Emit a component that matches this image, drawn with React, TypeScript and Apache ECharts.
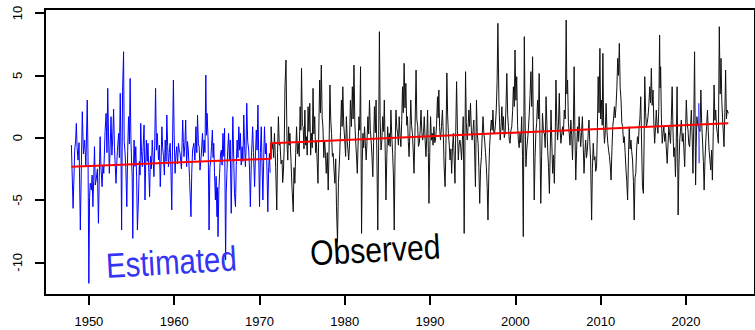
import { useEffect, useRef } from "react";
import * as echarts from "echarts";

// Axis tick positions
const xTickYears = [1950, 1960, 1970, 1980, 1990, 2000, 2010, 2020];
const yTickValues = [-10, -5, 0, 5, 10];

// Estimated monthly anomalies, [year, value]
const estimated1948to1958: [number, number][] = [
  [1947.95, -0.59], [1948.15, -5.67], [1948.34, -1.0], [1948.45, -0.2], [1948.53, 1.15], [1948.62, -0.8],
  [1948.73, -1.8], [1948.85, -0.4], [1949.0, -7.41], [1949.12, -2.2], [1949.23, 2.09], [1949.36, -1.3],
  [1949.5, -0.19], [1949.65, -2.3], [1949.81, 3.02], [1949.9, -1.5], [1950.0, -11.69], [1950.08, -4.8],
  [1950.16, -3.66], [1950.3, -4.2], [1950.38, -3.0], [1950.47, -5.54], [1950.56, -3.5], [1950.66, -0.72],
  [1950.75, -3.8], [1950.85, -3.4], [1951.0, -2.5], [1951.12, -6.87], [1951.22, -3.2], [1951.32, 0.08],
  [1951.42, -2.4], [1951.55, -3.93], [1951.65, -2.2], [1951.75, -2.86], [1951.9, 0.5], [1952.02, 1.95],
  [1952.12, -1.2], [1952.21, 3.96], [1952.3, 0.4], [1952.4, -2.86], [1952.5, -0.6], [1952.6, 1.69],
  [1952.7, -1.4], [1952.79, -0.19], [1952.9, 2.3], [1953.0, -0.8], [1953.08, -2.1], [1953.18, -3.66],
  [1953.28, -1.9], [1953.35, -1.0], [1953.49, 0.35], [1953.58, -1.6], [1953.68, 3.56], [1953.76, -0.9],
  [1953.84, -7.41], [1953.95, 3.69], [1954.07, 6.9], [1954.14, -0.3], [1954.22, -0.99], [1954.33, -2.4],
  [1954.45, -5.54], [1954.55, -1.1], [1954.65, 1.69], [1954.75, -0.5], [1954.84, 4.76], [1954.92, 0.2],
  [1955.0, -1.79], [1955.08, -3.1], [1955.15, -8.08], [1955.22, -2.8], [1955.3, -0.19], [1955.4, -2.3],
  [1955.5, -0.72], [1955.6, -3.2], [1955.69, -7.41], [1955.81, -5.0], [1955.92, -1.9], [1956.0, -3.0],
  [1956.08, 1.15], [1956.17, -1.1], [1956.27, -2.33], [1956.36, -0.8], [1956.47, 1.02], [1956.58, -5.0],
  [1956.66, -2.2], [1956.74, -0.19], [1956.84, -1.9], [1956.93, -0.45], [1957.03, -2.8], [1957.12, -4.73],
  [1957.22, -1.5], [1957.33, -2.5], [1957.43, -0.19], [1957.53, -1.6], [1957.63, -3.13], [1957.72, -0.6],
  [1957.82, 3.96], [1957.92, -1.0],
];

const estimated1958to1971: [number, number][] = [
  [1958.01, 0.35], [1958.17, -1.79], [1958.27, -0.6], [1958.37, -3.93], [1958.46, -2.0], [1958.56, 0.88],
  [1958.65, -0.8], [1958.75, -1.52], [1958.85, -3.0], [1958.95, -0.19], [1959.05, -1.9], [1959.14, 1.82],
  [1959.24, -0.7], [1959.33, -2.33], [1959.43, -1.2], [1959.53, -0.45], [1959.62, -2.6], [1959.72, -5.8],
  [1959.8, -1.0], [1959.91, 4.63], [1960.0, 0.2], [1960.11, -2.86], [1960.2, -1.4], [1960.3, -0.72],
  [1960.4, -2.1], [1960.5, -0.45], [1960.6, -1.0], [1960.69, -1.26], [1960.85, -2.5], [1961.0, 1.42],
  [1961.08, -0.4], [1961.15, -1.52], [1961.25, -0.6], [1961.35, 1.42], [1961.46, -2.33], [1961.56, -0.3],
  [1961.66, -0.99], [1961.8, -3.2], [1961.97, -6.34], [1962.06, -2.8], [1962.16, -0.99], [1962.31, -0.45],
  [1962.43, -1.8], [1962.55, 0.88], [1962.65, -1.2], [1962.74, 1.82], [1962.84, -0.5], [1962.93, -0.72],
  [1963.03, -2.6], [1963.13, -1.79], [1963.22, -0.9], [1963.32, 0.35], [1963.42, -1.5], [1963.51, -0.19],
  [1963.61, -1.2], [1963.71, 5.03], [1963.79, 0.2], [1963.86, 1.95], [1963.98, -0.19], [1964.09, -7.41],
  [1964.19, -2.4], [1964.29, -1.79], [1964.38, -0.7], [1964.48, 0.62], [1964.56, -1.6], [1964.64, -0.45],
  [1964.73, -2.8], [1964.83, -5.0], [1964.92, -3.1], [1965.02, -6.34], [1965.08, -4.0], [1965.14, -7.94],
  [1965.24, -4.2], [1965.33, -2.86], [1965.43, -1.3], [1965.53, -0.99], [1965.62, -2.2], [1965.72, 0.35],
  [1965.82, -1.5], [1965.91, 0.75], [1966.03, -9.82], [1966.1, -4.5], [1966.18, -2.86], [1966.28, -1.0],
  [1966.38, 0.35], [1966.48, -1.8], [1966.57, -0.19], [1966.69, -6.07], [1966.78, -2.0], [1966.88, 1.69],
  [1966.98, -1.6], [1967.07, -4.47], [1967.19, -5.54], [1967.28, -2.2], [1967.38, -0.19], [1967.48, -1.6],
  [1967.58, 0.88], [1967.68, -1.0], [1967.77, 0.35], [1967.86, -2.2], [1967.96, -0.72], [1968.06, -1.9],
  [1968.16, 1.82], [1968.26, -0.6], [1968.35, -2.33], [1968.43, -0.9], [1968.51, 2.76], [1968.62, -0.3],
  [1968.74, -0.99], [1968.84, -2.6], [1968.93, -5.54], [1969.06, -1.5], [1969.2, 0.88], [1969.3, -1.2],
  [1969.43, -3.93], [1969.53, -1.4], [1969.63, 0.62], [1969.72, -1.0], [1969.82, 2.62], [1969.92, -1.8],
  [1970.01, -5.54], [1970.11, -1.2], [1970.21, 0.88], [1970.3, -2.0], [1970.4, -5.0], [1970.5, -1.6],
  [1970.59, 0.88], [1970.69, -1.3], [1970.79, -0.45], [1970.88, -2.6], [1970.98, -5.94], [1971.08, -2.4],
  [1971.17, -1.26], [1971.25, -2.8],
];

// Short estimated stretch inside the observed record
const estimated2021: [number, number][] = [[2021.5, 2.76], [2021.55, -2.06]];

// Observed monthly anomalies, [year, value]
const observed1971to1980: [number, number][] = [
  [1971.33, -1.5], [1971.37, 0.88], [1971.47, -0.9], [1971.56, -0.45], [1971.66, -1.6], [1971.76, 0.35],
  [1971.9, -2.4], [1972.03, -5.8], [1972.12, -1.2], [1972.22, 1.69], [1972.32, -0.6], [1972.41, -0.45],
  [1972.53, -2.1], [1972.65, -1.79], [1972.72, -3.6], [1972.8, -2.86], [1972.9, -0.8], [1972.99, 4.09],
  [1973.11, 6.23], [1973.23, -0.45], [1973.32, -1.8], [1973.42, 0.88], [1973.5, -0.6], [1973.57, 0.35],
  [1973.7, -1.9], [1973.81, -3.93], [1973.96, -5.94], [1974.05, -2.4], [1974.15, -3.66], [1974.25, -1.2],
  [1974.35, 0.88], [1974.45, -1.3], [1974.54, -0.45], [1974.66, -1.5], [1974.77, 2.49], [1974.85, 0.6],
  [1974.93, 5.57], [1975.03, 1.0], [1975.12, 0.88], [1975.22, -0.9], [1975.32, 2.22], [1975.42, -0.6],
  [1975.51, 0.08], [1975.6, -1.4], [1975.7, 2.49], [1975.8, 0.5], [1975.9, 2.76], [1976.0, -1.4],
  [1976.09, 0.35], [1976.19, -0.8], [1976.28, 3.96], [1976.38, 0.3], [1976.48, 1.69], [1976.58, -1.2],
  [1976.67, -0.19], [1976.77, -2.0], [1976.86, -3.66], [1976.96, 0.8], [1977.06, 4.63], [1977.15, 2.0],
  [1977.25, 5.83], [1977.35, 1.6], [1977.44, 0.88], [1977.54, -1.6], [1977.64, -0.19], [1977.74, -1.4],
  [1977.83, -2.86], [1977.95, -1.2], [1978.06, -4.2], [1978.16, -0.9], [1978.26, 4.23], [1978.36, 1.4],
  [1978.45, 0.35], [1978.55, -1.5], [1978.64, -1.26], [1978.74, -2.6], [1978.84, -3.66], [1978.94, -1.7],
  [1979.03, -5.54], [1979.15, -8.4], [1979.26, -3.6], [1979.38, -1.79], [1979.5, 0.5], [1979.61, 3.02],
  [1979.69, 0.9], [1979.77, 4.09], [1979.88, 1.0], [1980.0, -0.19], [1980.1, -1.5], [1980.19, 1.69],
  [1980.3, -0.3], [1980.46, -1.79],
];

const observed1980to1992: [number, number][] = [
  [1980.56, -0.5], [1980.66, 3.0], [1980.78, 0.9], [1980.89, 4.09], [1980.98, 1.5], [1981.08, 5.83],
  [1981.18, 1.2], [1981.27, -0.19], [1981.37, -1.4], [1981.47, -2.86], [1981.56, -0.6], [1981.66, 1.69],
  [1981.76, 0.6], [1981.85, 5.7], [1981.97, -7.68], [1982.05, -2.0], [1982.13, 0.35], [1982.22, -0.8],
  [1982.32, 0.88], [1982.42, -0.6], [1982.51, -1.79], [1982.61, -0.3], [1982.71, 1.69], [1982.8, 0.3],
  [1982.9, 3.02], [1983.0, 0.6], [1983.09, -0.19], [1983.19, -1.5], [1983.29, -3.13], [1983.38, -0.4],
  [1983.48, 2.49], [1983.58, 0.4], [1983.67, 3.02], [1983.77, -1.8], [1983.87, -7.41], [1983.97, -0.5],
  [1984.06, 8.51], [1984.15, 1.5], [1984.25, -0.99], [1984.35, -0.2], [1984.45, 1.69], [1984.55, 0.5],
  [1984.64, 3.02], [1984.74, -1.0], [1984.83, -5.0], [1984.93, -1.5], [1985.03, 0.88], [1985.12, -0.6],
  [1985.22, 0.35], [1985.32, -0.7], [1985.41, 2.22], [1985.51, 0.2], [1985.61, -1.26], [1985.7, -2.9],
  [1985.8, -7.41], [1985.9, -1.0], [1986.0, 2.22], [1986.1, 0.8], [1986.19, 0.35], [1986.29, -0.6],
  [1986.38, 1.69], [1986.48, 0.2], [1986.58, -0.72], [1986.68, 1.4], [1986.77, 4.09], [1986.86, 2.0],
  [1986.96, 5.97], [1987.06, 2.4], [1987.16, 4.36], [1987.26, 1.0], [1987.35, 1.69], [1987.45, -0.3],
  [1987.54, -1.52], [1987.64, 0.5], [1987.74, 3.02], [1987.83, 1.0], [1987.93, 0.35], [1988.02, -1.0],
  [1988.12, -2.86], [1988.24, 0.8], [1988.36, 5.43], [1988.45, 1.5], [1988.55, 0.88], [1988.64, -0.7],
  [1988.74, -0.45], [1988.84, 0.6], [1988.94, 2.22], [1989.03, 0.5], [1989.13, -0.19], [1989.23, 0.4],
  [1989.32, 1.69], [1989.42, -0.2], [1989.52, -1.52], [1989.62, 0.2], [1989.71, 2.22], [1989.8, -1.2],
  [1989.87, -5.27], [1989.97, -1.0], [1990.06, 1.69], [1990.16, -0.2], [1990.25, 0.35], [1990.35, -0.6],
  [1990.45, 0.88], [1990.55, -0.4], [1990.64, -0.19], [1990.76, 1.0], [1990.87, 3.29], [1990.95, 1.6],
  [1991.03, 3.83], [1991.12, 0.8], [1991.22, -0.19], [1991.34, 0.9], [1991.45, 2.22], [1991.55, 0.3],
  [1991.65, -2.33], [1991.76, -3.93], [1991.84, -1.5], [1991.97, 5.2],
];

const observed1992to2003: [number, number][] = [
  [1992.06, 1.8], [1992.15, 0.35], [1992.25, -0.6], [1992.34, -1.79], [1992.44, -0.9], [1992.53, -2.86],
  [1992.63, -0.8], [1992.73, 0.35], [1992.82, -1.5], [1992.92, -3.66], [1993.01, 0.5], [1993.11, 4.5],
  [1993.21, 0.6], [1993.31, -1.79], [1993.4, -0.6], [1993.5, -0.19], [1993.6, -0.8], [1993.69, -1.79],
  [1993.79, -0.2], [1993.89, 1.69], [1994.0, -7.68], [1994.16, 5.3], [1994.25, 1.2], [1994.35, -0.19],
  [1994.45, 0.8], [1994.55, 2.22], [1994.64, 0.9], [1994.74, 2.76], [1994.84, 0.6], [1994.93, -0.19],
  [1995.03, 0.5], [1995.13, 1.42], [1995.22, -1.0], [1995.32, -3.93], [1995.44, 3.02], [1995.53, 0.4],
  [1995.63, -0.45], [1995.72, -2.4], [1995.82, -5.27], [1995.92, -2.5], [1996.02, -1.52], [1996.11, 0.2],
  [1996.21, 1.69], [1996.31, 0.3], [1996.4, -0.19], [1996.5, -1.2], [1996.6, -2.33], [1996.7, -4.0],
  [1996.79, -6.61], [1996.89, -2.8], [1996.98, -0.72], [1997.08, 0.5], [1997.18, 1.42], [1997.28, 0.6],
  [1997.37, 2.22], [1997.47, 0.4], [1997.56, 0.35], [1997.66, 1.0], [1997.76, 2.22], [1997.86, 4.5],
  [1997.95, 9.18], [1998.07, 3.02], [1998.15, 1.2], [1998.22, -0.19], [1998.32, 0.9], [1998.42, 2.49],
  [1998.52, 0.6], [1998.61, 1.69], [1998.7, 0.0], [1998.8, 0.35], [1998.9, 2.5], [1999.0, 5.16],
  [1999.1, 1.8], [1999.19, 0.88], [1999.29, -0.2], [1999.38, -0.45], [1999.48, 0.6], [1999.58, 0.88],
  [1999.68, 2.2], [1999.77, 4.09], [1999.87, 2.5], [1999.96, 7.04], [2000.06, 3.0], [2000.16, 4.9],
  [2000.26, 1.0], [2000.35, -0.19], [2000.45, -0.8], [2000.54, 0.35], [2000.64, -0.4], [2000.74, 1.69],
  [2000.84, -1.5], [2000.93, -7.94], [2001.05, 8.11], [2001.14, 1.5], [2001.24, -2.33], [2001.34, -0.9],
  [2001.43, -0.19], [2001.53, 0.7], [2001.63, 1.95], [2001.72, 3.4], [2001.82, 5.3], [2001.92, 2.5],
  [2002.02, 6.5], [2002.11, 0.5], [2002.21, -5.0], [2002.31, -1.6], [2002.4, 0.35], [2002.5, 1.2],
  [2002.6, 3.02], [2002.7, 1.5], [2002.79, 5.16], [2002.89, -0.5], [2002.98, -5.27], [2003.08, -1.5],
];

const observed2003to2014: [number, number][] = [
  [2003.18, 1.95], [2003.3, 0.4], [2003.41, 0.35], [2003.5, -0.8], [2003.6, 3.29], [2003.7, 1.0],
  [2003.79, -0.99], [2003.89, -2.4], [2003.99, -4.47], [2004.09, -1.0], [2004.18, 2.22], [2004.28, -0.5],
  [2004.37, -2.86], [2004.47, -1.4], [2004.57, -3.66], [2004.66, -0.5], [2004.76, 4.63], [2004.86, 1.2],
  [2004.95, -0.19], [2005.05, 1.0], [2005.15, 3.56], [2005.25, 0.6], [2005.34, -0.45], [2005.44, 0.3],
  [2005.54, 0.88], [2005.63, 0.2], [2005.73, 2.22], [2005.85, 1.5], [2005.96, 9.44], [2006.04, 3.5],
  [2006.12, 4.63], [2006.22, 1.2], [2006.31, 0.35], [2006.41, -0.6], [2006.5, 1.42], [2006.6, 0.2],
  [2006.7, -1.79], [2006.8, 1.0], [2006.89, 5.7], [2006.98, 0.5], [2007.08, -3.4], [2007.18, -1.0],
  [2007.28, 0.88], [2007.37, -0.3], [2007.47, 1.69], [2007.57, 0.3], [2007.66, -0.72], [2007.76, 0.4],
  [2007.86, 1.69], [2007.95, -0.5], [2008.05, -2.86], [2008.15, -1.2], [2008.24, -0.19], [2008.34, -1.6],
  [2008.44, -0.99], [2008.53, 0.2], [2008.63, 1.42], [2008.72, -0.3], [2008.82, -1.79], [2008.94, -6.61],
  [2009.03, -2.5], [2009.13, -0.45], [2009.23, -1.8], [2009.33, -1.52], [2009.42, -2.7], [2009.52, -2.33],
  [2009.62, 0.8], [2009.71, 4.9], [2009.81, 2.0], [2009.91, 7.17], [2010.0, 1.5], [2010.1, 3.02],
  [2010.18, 1.0], [2010.26, 6.77], [2010.35, 1.0], [2010.45, -0.45], [2010.55, 0.6], [2010.64, 2.76],
  [2010.74, 0.5], [2010.84, -0.45], [2010.93, -1.0], [2011.03, -1.52], [2011.12, -2.2], [2011.22, -3.4],
  [2011.32, -1.0], [2011.42, 0.88], [2011.51, 1.5], [2011.61, 2.49], [2011.7, 1.6], [2011.8, 2.49],
  [2011.9, 4.0], [2012.0, 6.37], [2012.09, 5.0], [2012.19, 7.57], [2012.29, 4.0], [2012.39, 3.02],
  [2012.48, 1.2], [2012.58, 0.88], [2012.68, -0.4], [2012.77, 0.08], [2012.87, -1.2], [2012.97, -2.59],
  [2013.06, -3.5], [2013.16, -5.0], [2013.26, -1.5], [2013.35, 0.88], [2013.45, -0.9], [2013.55, -0.19],
  [2013.64, -1.1], [2013.74, -1.79], [2013.84, -3.5], [2013.93, -6.61], [2014.03, -3.2], [2014.12, -2.86],
];

const observed2014to2025: [number, number][] = [
  [2014.22, -0.8], [2014.32, 0.08], [2014.42, -0.5], [2014.51, 0.88], [2014.6, 1.5], [2014.7, 3.29],
  [2014.8, -0.5], [2014.9, -3.93], [2015.01, -4.47], [2015.09, -0.5], [2015.17, 4.9], [2015.27, 2.0],
  [2015.36, 0.88], [2015.46, 1.2], [2015.55, 1.69], [2015.65, 2.6], [2015.75, 4.09], [2015.85, 2.8],
  [2015.94, 5.57], [2016.04, 2.6], [2016.14, 3.83], [2016.24, 1.0], [2016.33, -0.45], [2016.43, 0.8],
  [2016.52, 2.22], [2016.62, 0.9], [2016.72, 0.35], [2016.82, 2.5], [2016.91, 8.24], [2016.97, 4.0],
  [2017.03, 5.7], [2017.12, 1.5], [2017.22, -0.45], [2017.32, 0.4], [2017.41, 0.88], [2017.51, -0.3],
  [2017.61, 0.35], [2017.7, -0.9], [2017.8, -2.06], [2017.9, -0.5], [2017.99, 0.88], [2018.09, 0.2],
  [2018.19, -0.45], [2018.28, 1.4], [2018.38, 4.09], [2018.48, 0.6], [2018.57, -1.52], [2018.67, -0.8],
  [2018.77, -3.13], [2018.86, -0.4], [2018.96, 4.09], [2019.02, 0.0], [2019.08, -6.2], [2019.17, -2.4],
  [2019.27, -0.19], [2019.36, 0.6], [2019.46, 1.42], [2019.56, -0.3], [2019.66, 0.35], [2019.75, -0.8],
  [2019.85, -2.33], [2019.95, 0.5], [2020.04, 3.02], [2020.14, 1.2], [2020.24, 0.62], [2020.33, -0.5],
  [2020.43, -0.72], [2020.53, 0.8], [2020.63, 2.22], [2020.72, 0.3], [2020.82, -2.86], [2020.92, 1.5],
  [2021.01, 6.9], [2021.13, -3.8], [2021.2, -0.8], [2021.28, 1.69], [2021.4, 1.0], [2021.65, 0.5],
  [2021.75, 3.83], [2021.84, 1.2], [2021.94, -0.19], [2022.04, -1.9], [2022.13, -4.2], [2022.23, -1.8],
  [2022.33, -0.19], [2022.42, 0.9], [2022.52, 2.22], [2022.62, 0.5], [2022.71, -0.99], [2022.81, -1.8],
  [2022.91, -2.59], [2023.0, -1.0], [2023.1, -3.4], [2023.2, 0.5], [2023.3, 4.23], [2023.39, 1.4],
  [2023.49, 2.22], [2023.58, 0.9], [2023.68, 0.35], [2023.8, -0.45], [2023.91, 8.91], [2024.01, 3.5],
  [2024.11, 6.37], [2024.2, 3.0], [2024.3, 1.42], [2024.38, 0.4], [2024.46, -0.72], [2024.56, 2.0],
  [2024.65, 5.43], [2024.74, 1.5], [2024.84, 2.22], [2024.96, 1.95],
];

// Piecewise linear trend: estimated period, then observed period
const trendYears = [1947.95, 1971.35, 1971.35, 2024.96];
const trendValues = [-2.33, -1.69, -0.45, 1.16];

const FONT = "'Liberation Sans', Arial, Helvetica, sans-serif";

export default function App() {
  const ref = useRef<HTMLDivElement>(null);

  useEffect(() => {
    if (!ref.current) return;
    const chart = echarts.init(ref.current, null, { renderer: "svg" });

    const estimated = [...estimated1948to1958, ...estimated1958to1971];
    const observed = [
      ...observed1971to1980,
      ...observed1980to1992,
      ...observed1992to2003,
      ...observed2003to2014,
      ...observed2014to2025,
    ];
    const trend = trendYears.map((y, i) => [y, trendValues[i]]);

    chart.setOption({
      animation: false,
      backgroundColor: "#ffffff",
      grid: {
        left: 45,
        top: 9,
        width: 717,
        height: 286,
        show: true,
        borderColor: "#000",
        borderWidth: 2,
        backgroundColor: "transparent",
      },
      xAxis: {
        type: "value",
        min: 1944.857,
        max: 2028.094,
        splitLine: { show: false },
        axisLine: { show: true, onZero: false, lineStyle: { color: "#000", width: 2 } },
        axisTick: {
          show: true,
          length: 10,
          customValues: xTickYears,
          lineStyle: { color: "#000", width: 2 },
        },
        axisLabel: {
          customValues: xTickYears,
          color: "#000",
          fontSize: 13,
          fontFamily: FONT,
          margin: 20,
          formatter: (v: number) => String(v),
        },
      },
      yAxis: {
        type: "value",
        min: -12.624,
        max: 10.329,
        splitLine: { show: false },
        axisLine: { show: true, onZero: false, lineStyle: { color: "#000", width: 2 } },
        axisTick: {
          show: true,
          length: 10,
          customValues: yTickValues,
          lineStyle: { color: "#000", width: 2 },
        },
        axisLabel: {
          customValues: yTickValues,
          rotate: 90,
          color: "#000",
          fontSize: 13,
          fontFamily: FONT,
          margin: 21,
          formatter: (v: number) => String(v),
        },
      },
      series: [
        {
          name: "Estimated",
          type: "line",
          data: estimated,
          symbol: "none",
          silent: true,
          lineStyle: { color: "#0000ff", width: 1 },
          z: 2,
        },
        {
          name: "Observed",
          type: "line",
          data: observed,
          symbol: "none",
          silent: true,
          lineStyle: { color: "#111111", width: 1 },
          z: 2,
        },
        {
          name: "Estimated 2021",
          type: "line",
          data: estimated2021,
          symbol: "none",
          silent: true,
          lineStyle: { color: "#3030ff", width: 1.2 },
          z: 3,
        },
        {
          name: "Trend",
          type: "line",
          data: trend,
          symbol: "none",
          silent: true,
          lineStyle: { color: "#ff0000", width: 2 },
          z: 4,
        },
      ],
      graphic: [
        {
          type: "text",
          x: 106,
          y: 266,
          rotation: (3.3 * Math.PI) / 180,
          scaleX: 0.84,
          z: 10,
          style: {
            text: "Estimated",
            fill: "#3434f2",
            fontSize: 35,
            fontFamily: FONT,
            textAlign: "left",
            textVerticalAlign: "middle",
          },
        },
        {
          type: "text",
          x: 310,
          y: 253,
          rotation: (3 * Math.PI) / 180,
          scaleX: 0.86,
          z: 10,
          style: {
            text: "Observed",
            fill: "#000000",
            fontSize: 35,
            fontFamily: FONT,
            textAlign: "left",
            textVerticalAlign: "middle",
          },
        },
      ],
    });

    return () => chart.dispose();
  }, []);

  return (
    <div
      ref={ref}
      style={{ position: "absolute", left: 0, top: 0, width: 755, height: 330 }}
    />
  );
}
